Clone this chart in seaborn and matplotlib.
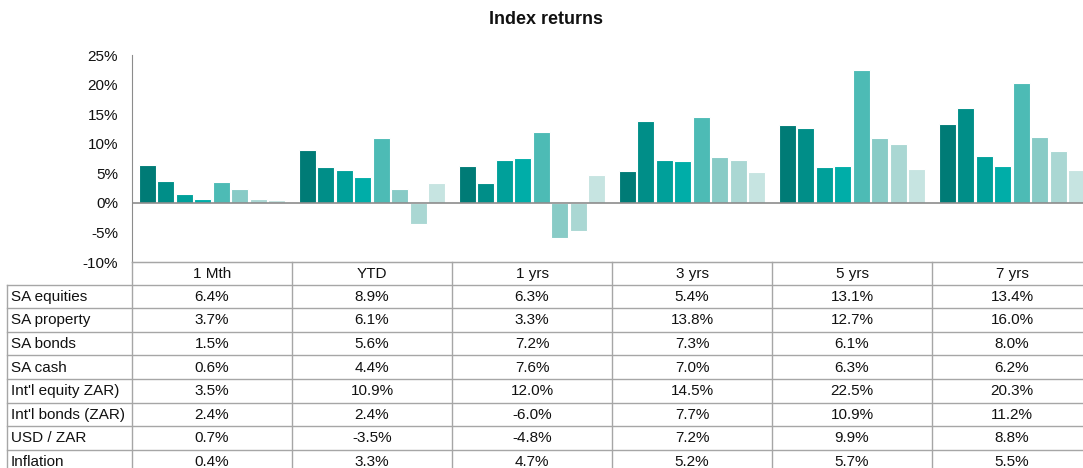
import matplotlib
matplotlib.use('Agg')
import matplotlib.pyplot as plt
import seaborn as sns
import pandas as pd

##### data
periods = ['1 Mth', 'YTD', '1 yrs', '3 yrs', '5 yrs', '7 yrs']
assets = ['SA equities', 'SA property', 'SA bonds', 'SA cash',
          "Int'l equity ZAR)", "Int'l bonds (ZAR)", 'USD / ZAR', 'Inflation']

sa_equities = [6.4, 8.9, 6.3, 5.4, 13.1, 13.4]
sa_property = [3.7, 6.1, 3.3, 13.8, 12.7, 16.0]
sa_bonds = [1.5, 5.6, 7.2, 7.3, 6.1, 8.0]
sa_cash = [0.6, 4.4, 7.6, 7.0, 6.3, 6.2]
intl_equity = [3.5, 10.9, 12.0, 14.5, 22.5, 20.3]
intl_bonds = [2.4, 2.4, -6.0, 7.7, 10.9, 11.2]
usd_zar = [0.7, -3.5, -4.8, 7.2, 9.9, 8.8]
inflation = [0.4, 3.3, 4.7, 5.2, 5.7, 5.5]

yticks = [-10, -5, 0, 5, 10, 15, 20, 25]

colors = ['#007B76', '#008E88', '#00A09A', '#00ADA8',
          '#4DBBB5', '#88CBC6', '#AAD7D3', '#C6E4E1']

series = [sa_equities, sa_property, sa_bonds, sa_cash,
          intl_equity, intl_bonds, usd_zar, inflation]

rows = []
for name, vals in zip(assets, series):
    for p, v in zip(periods, vals):
        rows.append({'period': p, 'asset': name, 'value': v})
df = pd.DataFrame(rows)

##### figure
W, H = 1083, 468
fig = plt.figure(figsize=(W / 100, H / 100), dpi=100)
plt.rcParams['font.family'] = ['Liberation Sans', 'DejaVu Sans']
fs = 11

# plot area in pixels
x0, x1 = 132, 1092
ytop, ybot = 55, 262
ax = fig.add_axes([x0 / W, (H - ybot) / H, (x1 - x0) / W, (ybot - ytop) / H])

sns.barplot(data=df, x='period', y='value', hue='asset', palette=colors,
            saturation=1, width=0.925, gap=0.1, edgecolor='white', linewidth=0.8,
            legend=False, ax=ax, errorbar=None)

ax.set_ylim(-10, 25)
ax.set_xlim(-0.5, len(periods) - 0.5)
ax.set_yticks(yticks)
ax.set_yticklabels(['%d%%' % t for t in yticks], fontsize=fs, color='#111111')
ax.tick_params(axis='y', length=0, pad=10)
ax.set_xticks([])
ax.set_xlabel('')
ax.set_ylabel('')
ax.axhline(0, color='#8C8C8C', lw=1.2, zorder=5)
for s in ['top', 'right']:
    ax.spines[s].set_visible(False)
ax.spines['left'].set_color('#8C8C8C')
ax.spines['bottom'].set_color('#A6A6A6')
ax.patch.set_alpha(0)

fig.text(546 / W, 1 - 20 / H, 'Index returns', ha='center', va='center',
         fontsize=13, fontweight='bold', color='#111111')

##### data table (pixel coordinates)
tab = fig.add_axes([0, 0, 1, 1])
tab.set_xlim(0, W)
tab.set_ylim(H, 0)
tab.axis('off')
tab.patch.set_alpha(0)

col_w = (x1 - x0) / len(periods)
label_left = 7
head_top, head_bot = 262, 284.5
row_h = 23.6
lc = '#A6A6A6'

# header
for k, p in enumerate(periods):
    tab.text(x0 + col_w * (k + 0.5), (head_top + head_bot) / 2 + 1, p,
             ha='center', va='center', fontsize=fs, color='#111111')
tab.plot([x0, x1], [head_top, head_top], color=lc, lw=1)

for k in range(len(periods) + 1):
    xx = x0 + col_w * k
    tab.plot([xx, xx], [head_top, head_bot + row_h * len(assets)], color=lc, lw=1)
tab.plot([label_left, label_left], [head_bot, head_bot + row_h * len(assets)], color=lc, lw=1)

for i, (name, vals) in enumerate(zip(assets, series)):
    top = head_bot + row_h * i
    tab.plot([label_left, x1], [top, top], color=lc, lw=1)
    yc = top + row_h / 2 + 0.5
    tab.text(label_left + 4, yc, name, ha='left', va='center', fontsize=fs, color='#111111')
    for k, v in enumerate(vals):
        tab.text(x0 + col_w * (k + 0.5), yc, '%.1f%%' % v, ha='center', va='center',
                 fontsize=fs, color='#111111')

fig.savefig('out.png', dpi=100)
